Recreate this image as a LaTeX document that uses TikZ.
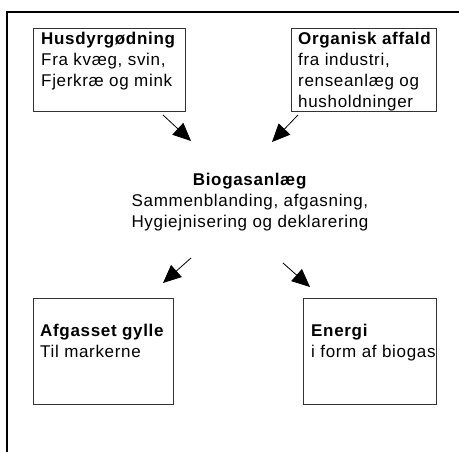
\documentclass[tikz,border=0pt]{standalone}
\usepackage{fontspec}
\setmainfont{Liberation Sans}[LetterSpace=4]
\usetikzlibrary{arrows.meta,positioning}

\tikzset{
	box/.style={draw=black!80, line width=1.3pt, anchor=north west, inner sep=0pt},
	txt/.style={align=left, inner sep=0pt, font=\fontsize{17}{21}\selectfont},
	flow/.style={line width=0.8pt, -{Triangle[length=18pt,width=16pt]}}
}

\begin{document}
\begin{tikzpicture}[x=1pt,y=-1pt]

				\useasboundingbox (0,0) rectangle (459,452);

				% Frame
				\draw[line width=2pt] (7,452) -- (7,12) -- (459,12);

				% Boxes
				\node[box, minimum width=152pt, minimum height=83pt] (husdyr) at (33,28) {};
				\node[box, minimum width=145pt, minimum height=83pt] (affald) at (291,28) {};
				\node[box, minimum width=140pt, minimum height=106pt] (gylle) at (33,298) {};
				\node[box, minimum width=133pt, minimum height=106pt] (energi) at (303,298) {};

				% Texts
				\node[txt, below right=4pt and 8pt of husdyr.north west, anchor=north west] (husdyrtxt)
					{\textbf{Husdyrgødning}\\Fra kvæg, svin,\\Fjerkræ og mink};
				\node[txt, below right=4pt and 7pt of affald.north west, anchor=north west] (affaldtxt)
					{\textbf{Organisk affald}\\fra industri,\\renseanlæg og\\husholdninger};
				\node[txt, align=center, anchor=north] (anlaeg) at (250,173)
					{\textbf{Biogasanlæg}\\Sammenblanding, afgasning,\\Hygiejnisering og deklarering};
				\node[txt, below right=26pt and 7pt of gylle.north west, anchor=north west] (gylletxt)
					{\textbf{Afgasset gylle}\\Til markerne};
				\node[txt, below right=26pt and 8pt of energi.north west, anchor=north west] (energitxt)
					{\textbf{Energi}\\i form af biogas};

				% Arrow ends
				\coordinate (1) at (163,115);
				\coordinate (2) at (191,141);
				\coordinate (3) at (298,115);
				\coordinate (4) at (272,142);
				\coordinate (5) at (191,258);
				\coordinate (6) at (163,283);
				\coordinate (7) at (283,263);
				\coordinate (8) at (310,287);

				\draw[flow] (1) -- (2);
				\draw[flow] (3) -- (4);
				\draw[flow] (5) -- (6);
				\draw[flow] (7) -- (8);

\end{tikzpicture}
\end{document}
